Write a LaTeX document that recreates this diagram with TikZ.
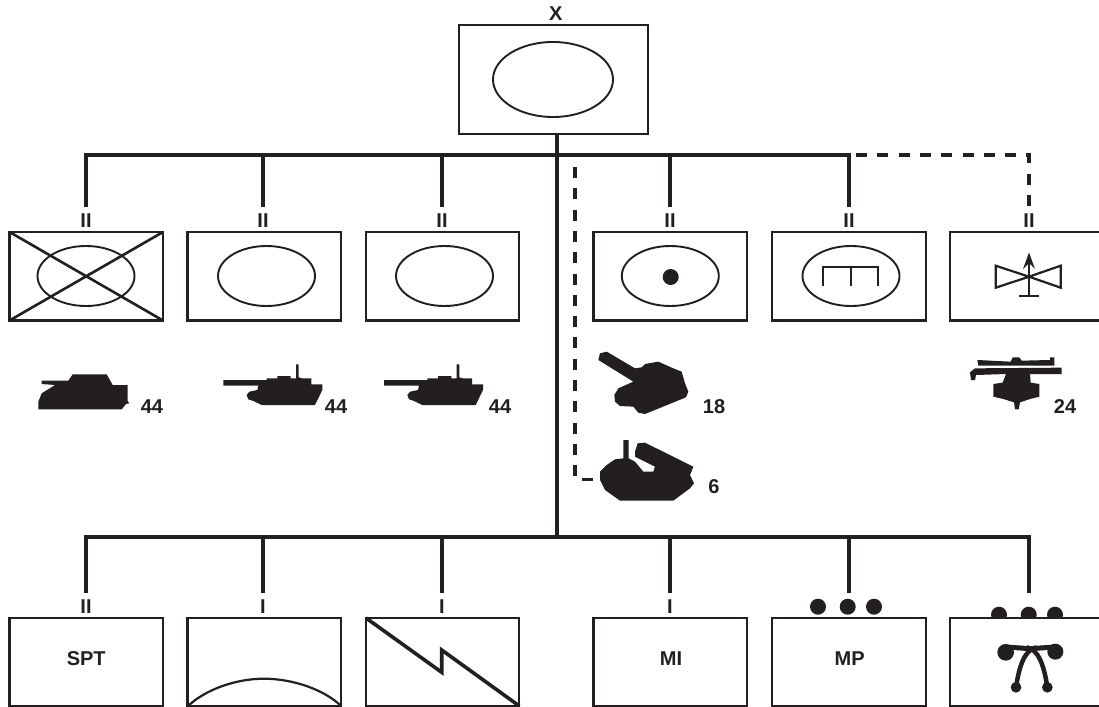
\documentclass[tikz,border=0pt]{standalone}
\usepackage{fontspec}
\setmainfont{Liberation Sans}
\usetikzlibrary{shapes.geometric}
\definecolor{ink}{HTML}{231F20}
\tikzset{
  x=1pt,y=-1pt,
  unitbox/.style={draw=ink,line width=2.2pt,rectangle,fill=white,inner sep=0pt,outer sep=0pt,minimum height=88.5pt},
  wideunit/.style={unitbox,minimum width=153.5pt},
  oval/.style={draw=ink,line width=1.9pt,ellipse,inner sep=0pt,outer sep=0pt,minimum width=97pt,minimum height=60pt},
  conn/.style={draw=ink,line width=3.6pt,miter limit=10},
  dashconn/.style={draw=ink,line width=3.6pt,dash pattern=on 11pt off 10.3pt},
  lab/.style={font=\fontsize{20}{22}\selectfont\bfseries,text=ink,inner sep=0pt,outer sep=0pt},
  echelon/.style={lab,minimum height=28pt,minimum width=10pt},
  sym/.style={draw=ink,line width=2.2pt},
  blob/.style={fill=ink,draw=none},
}
\newcommand{\tanktwo}{(670,120)--(800,120)--(800,115)--(832,115)--(832,108)--(872,108)--(872,115)--(888,115)--(888,73)--(896,73)--(896,112)--(906,115)--(934,115)--(934,133)--(967,133)--(967,150)--(945,195)--(785,195)--(760,183)--(745,178)--(740,165)--(748,155)--(772,150)--(775,137)--(670,137)--cycle}
\begin{document}
\begin{tikzpicture}
\useasboundingbox (0,0) rectangle (1099,706);
\clip (0,0) rectangle (1099,706);
\fill[white] (0,0) rectangle (1099,706);

% junctions
\coordinate (busTop) at (557,155);
\coordinate (busBot) at (557,537);
\foreach \n/\px in {1/86,2/263,3/442,4/670,5/849,6/1029}{
  \coordinate (j\n) at (\px,155);
  \coordinate (k\n) at (\px,537);
}

% headquarters
\node[unitbox,minimum width=189pt,minimum height=109pt] (top) at (553.5,79.5) {};
\node[oval,minimum width=120pt,minimum height=75pt] (topoval) at (553,79.5) {};
\node[lab] (topx) at (555.7,13.5) {X};

% second row boxes
\node[wideunit] (b1) at (86.25,276.25) {};
\node[wideunit] (b2) at (264.3,276.25) {};
\node[wideunit] (b3) at (442.6,276.25) {};
\node[wideunit] (b4) at (670.3,276.25) {};
\node[wideunit] (b5) at (849,276.25) {};
\node[unitbox,minimum width=160pt] (b6) at (1030,276.25) {};
\node[oval] (o1) at (86,276) {};
\node[oval] (o2) at (266.5,276) {};
\node[oval] (o3) at (444.5,276) {};
\node[oval] (o4) at (670.3,276) {};
\node[oval] (o5) at (851,276) {};
\draw[draw=ink,line width=2.6pt] (b1.north west)--(b1.south east) (b1.south west)--(b1.north east);
\fill[ink] (670.7,277) circle (8);
\draw[sym,line cap=butt] (822.7,286)--(822.7,266.7)--(878,266.7)--(878,286) (850.7,266.7)--(850.7,286);
% radar symbol
\draw[sym] (1029,276.7)--(995.7,265.7)--(995.7,287.7)--cycle;
\draw[sym] (1029,276.7)--(1060.7,265.7)--(1060.7,287.7)--cycle;
\draw[sym] (1029,258)--(1029,295.7) (1019,295.7)--(1039,295.7);
\fill[ink] (1029,252.5)--(1035,269)--(1029,263)--(1023,269)--cycle;

% second row echelons
\node[echelon] (e1) at (86,221) {II};
\node[echelon] (e2) at (263,221) {II};
\node[echelon] (e3) at (442,221) {II};
\node[echelon] (e4) at (670,221) {II};
\node[echelon] (e5) at (849,221) {II};
\node[echelon] (e6) at (1029,221) {II};

% third row
\node[wideunit] (c1) at (86.25,662) {};
\node[wideunit] (c2) at (264.3,662) {};
\node[wideunit] (c3) at (442.6,662) {};
\node[wideunit] (c4) at (670.3,662) {};
\node[wideunit] (c5) at (849,662) {};
\fill[ink] (999,614.7) circle (8) (1028.7,614.7) circle (8) (1055,614.7) circle (8);
\node[unitbox,minimum width=160pt] (c6) at (1030,662) {};
\node[lab] (tspt) at (86.25,659) {SPT};
\node[lab] (tmi) at (671,659) {MI};
\node[lab] (tmp) at (849.7,659) {MP};
\node[echelon] (f1) at (86,607) {II};
\node[echelon] (f2) at (263,607) {I};
\node[echelon] (f3) at (442,607) {I};
\node[echelon] (f4) at (670,607) {I};
\coordinate (f5) at (849,593);
\coordinate (f6) at (1029,593);
\fill[ink] (818,606.7) circle (8) (847.7,606.7) circle (8) (874,606.7) circle (8);
% arc symbol
\draw[sym] (188,706) .. controls (205,690) and (235,678.7) .. (264,678.7) .. controls (293,678.7) and (325,690) .. (341,706);
% bolt symbol
\draw[draw=ink,line width=3.6pt] (366,618)--(441.7,672.3)--(441.7,650)--(519.3,706);
% signal symbol
\begin{scope}[shift={(940,590)},x=0.33333pt,y=-0.33333pt]
  \fill[ink] (197,187) circle (25) (346,185) circle (24) (228,292) circle (16) (322,292) circle (16);
  \draw[draw=ink,line width=5pt] (197,171)--(270,176)--(346,171);
  \draw[draw=ink,line width=4.5pt] (228,292) .. controls (238,225) and (255,178) .. (290,172);
  \draw[draw=ink,line width=4.5pt] (322,292) .. controls (312,225) and (295,178) .. (260,172);
\end{scope}

% silhouettes
\begin{scope}[shift={(0,340)},x=0.33333pt,y=-0.33333pt]
  \fill[blob] (125,122)--(205,122)--(218,103)--(320,103)--(338,135)--(383,135)--(383,183)--(388,190)--(378,192)--(365,208)--(115,208)--(115,185)--(125,160)--(165,135)--(125,132)--cycle;
  \fill[blob] \tanktwo;
\end{scope}
\begin{scope}[shift={(160.7,340)},x=0.33333pt,y=-0.33333pt]
  \fill[blob] \tanktwo;
\end{scope}
\begin{scope}[shift={(370,340)},x=0.33333pt,y=-0.33333pt]
  \fill[blob] (710,35)--(795,85)--(815,82)--(825,72)--(865,65)--(910,85)--(935,95)--(945,130)--(955,155)--(948,172)--(825,222)--(805,218)--(790,200)--(750,198)--(735,185)--(733,165)--(745,145)--(790,125)--(685,60)--(690,40)--cycle;
  \fill[blob] (690,395)--(710,375)--(735,358)--(760,355)--(760,300)--(776,300)--(776,355)--(795,365)--(820,395)--(850,395)--(855,380)--(795,350)--(795,335)--(803,310)--(825,308)--(970,380)--(960,405)--(972,430)--(960,445)--(910,482)--(750,482)--(705,450)--(690,420)--cycle;
  \coordinate (veh) at (690,418);
\end{scope}
\begin{scope}[shift={(940,200)},x=0.33333pt,y=-0.33333pt]
  \fill[blob] (112,480)--(212,485)--(218,472)--(238,472)--(245,482)--(330,480)--(330,472)--(343,472)--(343,497)--(115,497)--cycle;
  \fill[blob] (90,517)--(105,505)--(365,503)--(365,522)--(270,522)--(272,548)--(298,552)--(298,590)--(270,597)--(240,607)--(236,628)--(225,628)--(222,607)--(190,597)--(160,590)--(160,552)--(188,548)--(198,522)--(108,525)--(105,540)--(93,540)--cycle;
\end{scope}

% counts
\node[lab] (n1) at (152,407) {44};
\node[lab] (n2) at (336,407) {44};
\node[lab] (n3) at (500,407) {44};
\node[lab] (n4) at (714,407) {18};
\node[lab] (n5) at (714,487) {6};
\node[lab] (n6) at (1065,407) {24};

% connectors
\draw[conn] (top.south -| busTop) -- (busBot);
\draw[conn] (e1.north) -- (j1) -- (j5) -- (e5.north);
\draw[conn] (j2) -- (e2.north);
\draw[conn] (j3) -- (e3.north);
\draw[conn] (j4) -- (e4.north);
\draw[conn] (f1.north) -- (k1) -- (k6) -- (f6);
\draw[conn] (k2) -- (f2.north);
\draw[conn] (k3) -- (f3.north);
\draw[conn] (k4) -- (f4.north);
\draw[conn] (k5) -- (f5);
\coordinate (dashStart) at (856,155);
\draw[dashconn] (dashStart) -- (j6) -- (e6.north);
\coordinate (dashTop) at (575,167);
\draw[dashconn] (dashTop) |- (veh);
\end{tikzpicture}
\end{document}
